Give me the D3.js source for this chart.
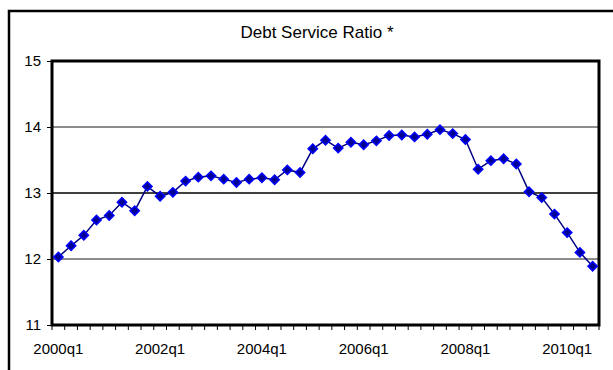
<!DOCTYPE html>
<html lang="en">
<head>
    <meta charset="UTF-8">
    <title>Debt Service Ratio</title>
    <script src="https://d3js.org/d3.v7.min.js"></script>
    <style>
        body { margin: 0; background: #fff; }
        text { font-family: "Liberation Sans", Arial, sans-serif; fill: #000; }
    </style>
</head>
<body>
    <div id="chart-container"></div>

    <script>
        const quarters = [
            "2000q1","2000q2","2000q3","2000q4",
            "2001q1","2001q2","2001q3","2001q4",
            "2002q1","2002q2","2002q3","2002q4",
            "2003q1","2003q2","2003q3","2003q4",
            "2004q1","2004q2","2004q3","2004q4",
            "2005q1","2005q2","2005q3","2005q4",
            "2006q1","2006q2","2006q3","2006q4",
            "2007q1","2007q2","2007q3","2007q4",
            "2008q1","2008q2","2008q3","2008q4",
            "2009q1","2009q2","2009q3","2009q4",
            "2010q1","2010q2","2010q3"
        ];
        const ratio = [
            12.03, 12.20, 12.36, 12.59, 12.66, 12.86, 12.73, 13.10,
            12.95, 13.01, 13.18, 13.24, 13.26, 13.21, 13.16, 13.21,
            13.23, 13.20, 13.35, 13.31, 13.67, 13.80, 13.68, 13.77,
            13.73, 13.79, 13.87, 13.88, 13.85, 13.89, 13.96, 13.90,
            13.81, 13.36, 13.49, 13.52, 13.44, 13.02, 12.93, 12.68,
            12.40, 12.10, 11.89
        ];
        const yTicks = [11, 12, 13, 14, 15];
        const data = quarters.map((q, i) => ({ q: q, v: ratio[i] }));

        const W = 613, H = 370;
        const margin = { top: 61, right: 14, bottom: 45, left: 52 };
        const width = W - margin.left - margin.right;
        const height = H - margin.top - margin.bottom;

        const svg = d3.select("#chart-container").append("svg")
            .attr("width", W)
            .attr("height", H);

        // outer frame (runs off the right and bottom edge)
        svg.append("rect")
            .attr("x", 9).attr("y", 11)
            .attr("width", 640).attr("height", 400)
            .attr("fill", "none")
            .attr("stroke", "#000")
            .attr("stroke-width", 2.5);

        svg.append("text")
            .attr("x", 317).attr("y", 38)
            .attr("text-anchor", "middle")
            .style("font-size", "17px")
            .text("Debt Service Ratio *");

        const g = svg.append("g")
            .attr("transform", "translate(" + margin.left + "," + margin.top + ")");

        const x = d3.scaleBand().domain(quarters).range([0, width]);
        const y = d3.scaleLinear().domain([11, 15]).range([height, 0]);

        // gridlines
        g.selectAll(".grid")
            .data(yTicks.filter(d => d > 11 && d < 15))
            .enter().append("line")
            .attr("x1", 0).attr("x2", width)
            .attr("y1", d => y(d)).attr("y2", d => y(d))
            .attr("stroke", d => d === 13 ? "#000" : "#666")
            .attr("stroke-width", 1.3);

        // y axis
        const yAxis = g.append("g")
            .call(d3.axisLeft(y).tickValues(yTicks).tickFormat(d3.format("d")).tickSize(5).tickPadding(6));
        yAxis.select(".domain").remove();
        yAxis.selectAll("text").style("font-size", "15px");

        // x axis: ticks at every category boundary
        const xAxis = g.append("g")
            .attr("transform", "translate(0," + height + ")");
        xAxis.selectAll(".xt")
            .data(d3.range(quarters.length + 1))
            .enter().append("line")
            .attr("x1", i => i * x.step()).attr("x2", i => i * x.step())
            .attr("y1", 0).attr("y2", 5)
            .attr("stroke", "#000");
        xAxis.selectAll(".xl")
            .data(quarters.filter((q, i) => i % 8 === 0))
            .enter().append("text")
            .attr("x", d => x(d) + x.bandwidth() / 2)
            .attr("y", 29)
            .attr("text-anchor", "middle")
            .style("font-size", "15px")
            .text(d => d);

        // plot border
        g.append("rect")
            .attr("width", width).attr("height", height)
            .attr("fill", "none")
            .attr("stroke", "#000")
            .attr("stroke-width", 3);

        const line = d3.line()
            .x(d => x(d.q) + x.bandwidth() / 2)
            .y(d => y(d.v));

        g.append("path")
            .datum(data)
            .attr("fill", "none")
            .attr("stroke", "#000080")
            .attr("stroke-width", 1.5)
            .attr("d", line);

        g.selectAll(".pt")
            .data(data)
            .enter().append("path")
            .attr("class", "pt")
            .attr("d", d3.symbol().type(d3.symbolSquare).size(42))
            .attr("transform", d => "translate(" + (x(d.q) + x.bandwidth() / 2) + "," + y(d.v) + ") rotate(45)")
            .attr("fill", "#000090")
            .attr("stroke", "#0000ff")
            .attr("stroke-width", 1.6);
    </script>
</body>
</html>
